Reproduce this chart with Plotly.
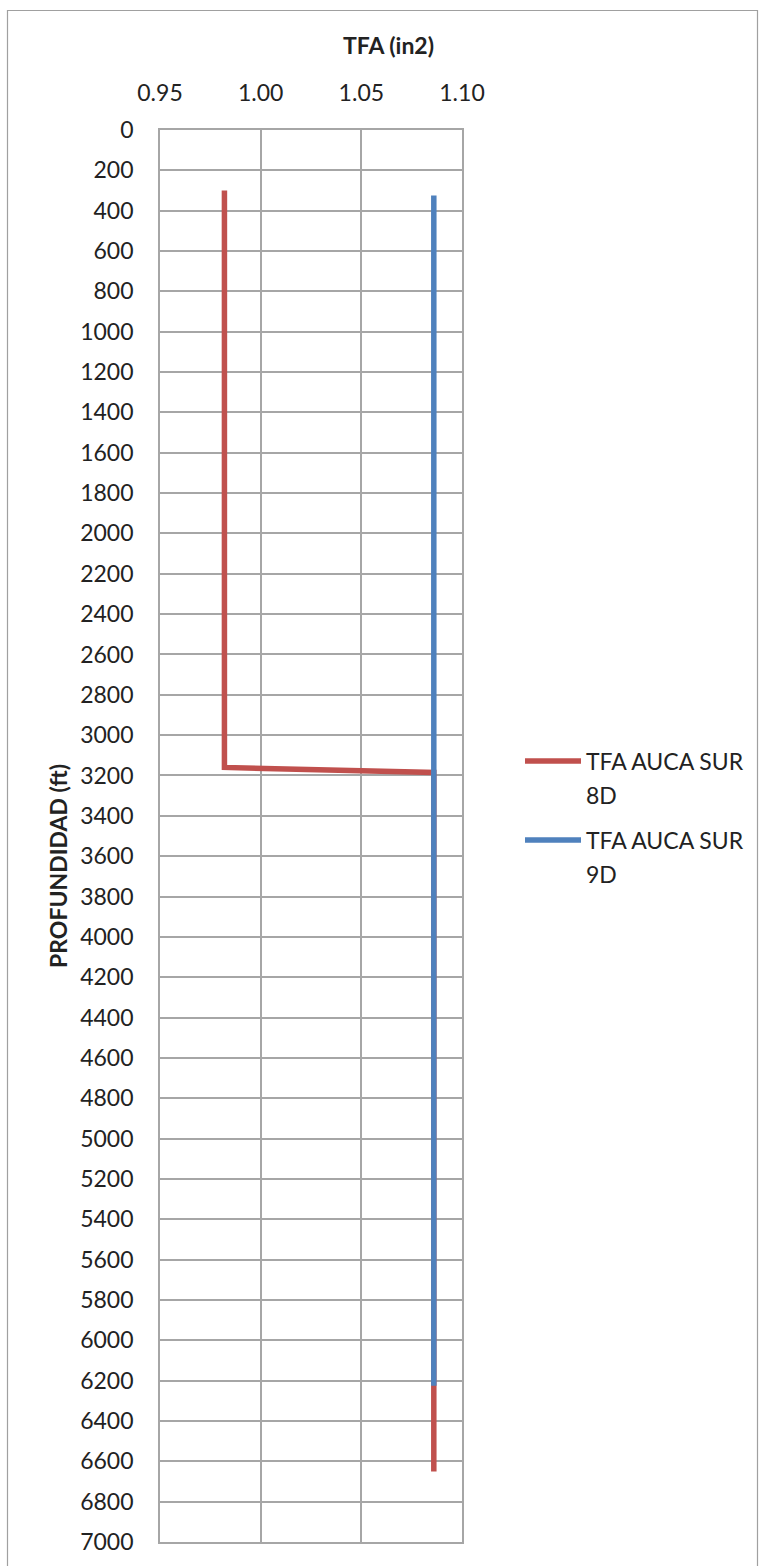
import plotly.graph_objects as go

# Depth profiles of total flow area (TFA) per well
depth_8d = [300, 3160, 3185, 6650]
tfa_8d = [0.982, 0.982, 1.086, 1.086]

depth_9d = [325, 6225]
tfa_9d = [1.086, 1.086]

x_ticks = [0.95, 1.00, 1.05, 1.10]

series_names = ["TFA AUCA SUR 8D", "TFA AUCA SUR 9D"]

RED = "#C0504D"
BLUE = "#4F81BD"
GRID = "#A6A6A6"
TEXT = "#222222"
FONT = "Lato"

W, H = 760, 1566
L, R, T, B = 160, 298, 130, 24

fig = go.Figure()
fig.add_trace(go.Scatter(x=tfa_8d, y=depth_8d, mode="lines",
                         name=series_names[0],
                         line=dict(color=RED, width=5.5)))
fig.add_trace(go.Scatter(x=tfa_9d, y=depth_9d, mode="lines",
                         name=series_names[1],
                         line=dict(color=BLUE, width=5.5)))

pw = W - L - R
ph = H - T - B


def px(x):
    return (x - L) / pw


def py(y):
    return 1 - (y - T) / ph


annotations = [
    dict(text="<b>TFA (in2)</b>", x=px(388), y=py(45), xref="paper",
         yref="paper", xanchor="center", yanchor="middle", showarrow=False,
         font=dict(size=23, color=TEXT)),
    dict(text="<b>PROFUNDIDAD (ft)</b>", x=px(58), y=py(866), xref="paper",
         yref="paper", xanchor="center", yanchor="middle", showarrow=False,
         textangle=-90, font=dict(size=23, color=TEXT)),
]
shapes = [
    dict(type="rect", xref="paper", yref="paper",
         x0=px(7.5), x1=px(757.5), y0=py(1575), y1=py(10.5),
         line=dict(color="#A0A0A0", width=1.2)),
]

# Legend: a line sample and a wrapped label for each series
legend_rows = [(761, RED), (840, BLUE)]
for (ly, color), name in zip(legend_rows, series_names):
    shapes.append(dict(type="line", xref="paper", yref="paper",
                       x0=px(525), x1=px(581), y0=py(ly), y1=py(ly),
                       line=dict(color=color, width=5.5)))
    first, second = name.rsplit(" ", 1)
    for dy, part in ((0, first), (34, second)):
        annotations.append(dict(text=part, x=px(584), y=py(ly + dy),
                                xref="paper", yref="paper", showarrow=False,
                                xanchor="left", yanchor="middle",
                                font=dict(size=23, color=TEXT)))

fig.update_layout(
    width=W, height=H,
    margin=dict(l=L, r=R, t=T, b=B),
    paper_bgcolor="white", plot_bgcolor="white",
    font=dict(family=FONT, size=23, color=TEXT),
    showlegend=False,
    xaxis=dict(side="top", range=[0.95, 1.10], tickvals=x_ticks,
               tickformat=".2f", showgrid=True, gridcolor=GRID, gridwidth=1.75,
               showline=True, linecolor=GRID, linewidth=1.75, mirror=True,
               zeroline=False, ticks="", ticklabelstandoff=18),
    yaxis=dict(range=[7000, 0], dtick=200, showgrid=True, gridcolor=GRID,
               gridwidth=1.75, showline=True, linecolor=GRID, linewidth=1.75,
               mirror=True, zeroline=False, ticks="", ticklabelstandoff=20),
    annotations=annotations,
    shapes=shapes,
)

fig.write_html("out.html")
